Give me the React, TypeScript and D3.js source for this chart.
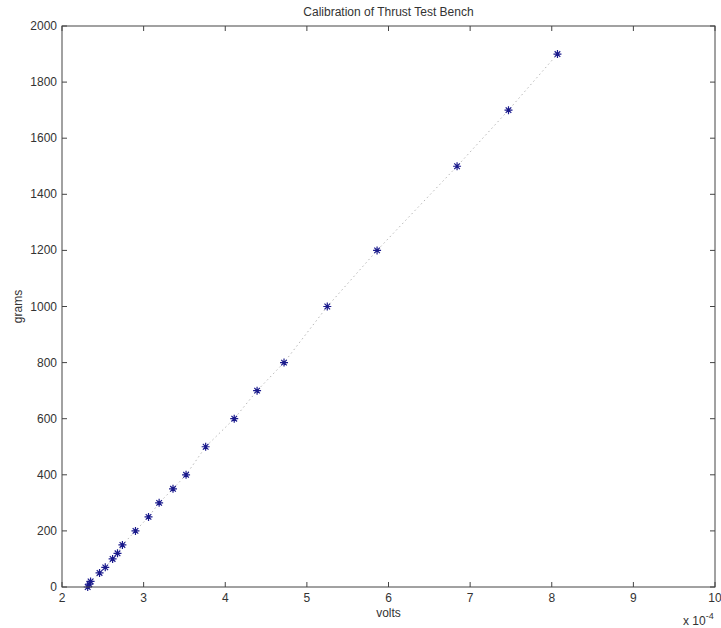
import React, { useEffect, useRef } from 'react';
import * as d3 from 'd3';

// volts (x 1e-4)
const volts = [2.315, 2.335, 2.35, 2.46, 2.53, 2.62, 2.68, 2.74, 2.9, 3.06, 3.19, 3.36, 3.52, 3.76, 4.11, 4.39, 4.72, 5.25, 5.86, 6.84, 7.47, 8.07];
const grams = [0, 10, 20, 50, 70, 100, 120, 150, 200, 250, 300, 350, 400, 500, 600, 700, 800, 1000, 1200, 1500, 1700, 1900];
const xTicks = [2, 3, 4, 5, 6, 7, 8, 9, 10];
const yTicks = [0, 200, 400, 600, 800, 1000, 1200, 1400, 1600, 1800, 2000];

const W = 721, H = 628;
const font = '"Liberation Sans Narrow", "Liberation Sans", Arial, sans-serif';

export default function App() {
  const ref = useRef<SVGSVGElement>(null);

  useEffect(() => {
    const svg = d3.select(ref.current);
    svg.selectAll('*').remove();

    const margin = { top: 26, right: 6, bottom: 41, left: 62 };
    const width = W - margin.left - margin.right;
    const height = H - margin.top - margin.bottom;

    const x = d3.scaleLinear().domain([2, 10]).range([0, width]);
    const y = d3.scaleLinear().domain([0, 2000]).range([height, 0]);

    const g = svg.append('g').attr('transform', `translate(${margin.left},${margin.top})`);

    // dotted line through the points
    const line = d3.line<number>().x((d, i) => x(volts[i])).y((d) => y(d));
    g.append('path')
      .datum(grams)
      .attr('d', line)
      .attr('fill', 'none')
      .attr('stroke', '#b8b8b8')
      .attr('stroke-width', 1)
      .attr('stroke-dasharray', '1.5,3');

    // star markers
    const s = 4;
    const pts = g.selectAll('g.pt').data(grams).enter().append('g')
      .attr('transform', (d, i) => `translate(${x(volts[i])},${y(d)})`);
    pts.append('path')
      .attr('d', `M${-s},0H${s}M0,${-s}V${s}M${-s * 0.7},${-s * 0.7}L${s * 0.7},${s * 0.7}M${-s * 0.7},${s * 0.7}L${s * 0.7},${-s * 0.7}`)
      .attr('stroke', '#1a1a8c')
      .attr('stroke-width', 1.2)
      .attr('fill', 'none');

    // axes box with inward ticks
    const tl = 5;
    const ax = g.append('g').attr('stroke', '#444').attr('stroke-width', 1).attr('fill', 'none');
    ax.append('rect').attr('x', 0).attr('y', 0).attr('width', width).attr('height', height);
    xTicks.forEach((t) => {
      ax.append('line').attr('x1', x(t)).attr('x2', x(t)).attr('y1', height).attr('y2', height - tl);
      ax.append('line').attr('x1', x(t)).attr('x2', x(t)).attr('y1', 0).attr('y2', tl);
    });
    yTicks.forEach((t) => {
      ax.append('line').attr('x1', 0).attr('x2', tl).attr('y1', y(t)).attr('y2', y(t));
      ax.append('line').attr('x1', width).attr('x2', width - tl).attr('y1', y(t)).attr('y2', y(t));
    });

    const txt = g.append('g').attr('font-family', font).attr('font-size', 12).attr('fill', '#333');
    xTicks.forEach((t) => {
      txt.append('text').attr('x', x(t)).attr('y', height + 15).attr('text-anchor', 'middle').text(t);
    });
    yTicks.forEach((t) => {
      txt.append('text').attr('x', -5).attr('y', y(t) + 4).attr('text-anchor', 'end').text(t);
    });

    txt.append('text').attr('x', width / 2).attr('y', -10).attr('text-anchor', 'middle').text('Calibration of Thrust Test Bench');
    txt.append('text').attr('x', width / 2).attr('y', height + 30).attr('text-anchor', 'middle').text('volts');
    txt.append('text')
      .attr('transform', `translate(${-40},${height / 2}) rotate(-90)`)
      .attr('text-anchor', 'middle')
      .text('grams');
    const e = txt.append('text').attr('x', width - 32).attr('y', height + 38);
    e.append('tspan').text('x 10');
    e.append('tspan').attr('dy', -6).attr('font-size', 9).text('-4');
  }, []);

  return (
    <svg ref={ref} width={W} height={H} style={{ position: 'absolute', left: 0, top: 0, background: '#fff' }} />
  );
}
